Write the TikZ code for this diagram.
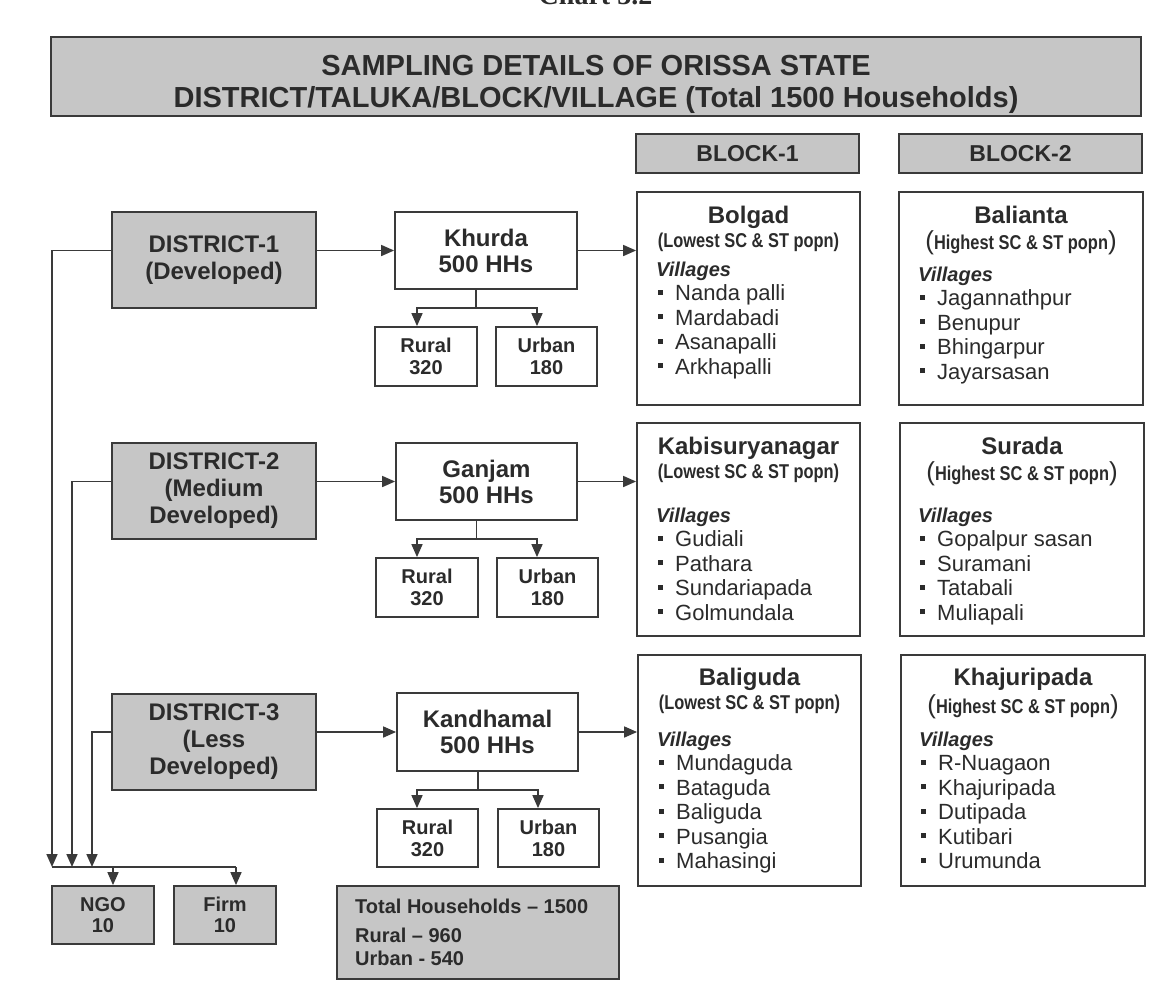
\documentclass[tikz,border=0pt]{standalone}
\usepackage{fontspec}
\setmainfont{Liberation Sans}
\newfontfamily\narrowsf{Liberation Sans}[FakeStretch=0.82]
\newfontfamily\chartfont{Liberation Serif}
\usetikzlibrary{arrows.meta,calc}

\definecolor{ink}{HTML}{2B2B2B}
\definecolor{edge}{HTML}{3A3A3A}
\definecolor{shade}{HTML}{C6C6C6}

\newcommand\fsz[2]{\fontsize{#1pt}{#2pt}\selectfont}
\newcommand\bul{\makebox[19pt][l]{\hspace{2pt}\rule[6pt]{5pt}{5pt}}}
\newcommand\lowest{{\narrowsf\bfseries\fsz{20}{20}(Lowest SC \& ST popn)}}
\newcommand\highest{{\fsz{26}{26}(}{\narrowsf\bfseries\fsz{20}{20}Highest SC \& ST popn}{\fsz{26}{26})}}

% "Villages" heading followed by a bulleted list, 24.5pt apart
\newcommand\villagelist[4]{%
  \node[lbl, anchor=base west, font=\bfseries\itshape\fsz{20}{20}] (#1h) at (#2,#3) {Villages};
  \foreach \v [count=\k] in {#4}
    \node[lbl, anchor=base west, font=\fsz{22}{22}] (#1\k) at (#2,#3+24.5*\k) {\bul\v};
}

\tikzset{
  panel/.style={draw=edge, line width=1.8pt, inner sep=0pt, align=center, text=ink},
  grayp/.style={panel, fill=shade},
  whitep/.style={panel, fill=white},
  size/.style 2 args={minimum width=#1pt, minimum height=#2pt},
  bigbf/.style={font=\bfseries\fsz{24}{27}},
  midbf/.style={font=\bfseries\fsz{24}{26}},
  smallbf/.style={font=\bfseries\fsz{20}{22}},
  lbl/.style={inner sep=0pt, text=ink},
  link/.style={draw=edge, line width=1.6pt},
  arrow/.style={link, -{Triangle[length=13pt,width=11pt]}},
}

\begin{document}
\begin{tikzpicture}[x=1pt, y=-1pt]
\useasboundingbox[fill=white] (0,0) rectangle (1172,983);

% chart caption, mostly above the page edge
\node[lbl, anchor=base, font=\chartfont\bfseries\fsz{28}{28}] (chart) at (595.5,4) {Chart 3.2};

% heading
\node[grayp, size={1090}{79}] (title) at (596,76.5) {};
\node[lbl, anchor=base, font=\bfseries\fsz{29}{29}] (t1) at (596,75.5) {SAMPLING DETAILS OF ORISSA STATE};
\node[lbl, anchor=base, font=\bfseries\fsz{29}{29}] (t2) at (596,107.5) {DISTRICT/TALUKA/BLOCK/VILLAGE (Total 1500 Households)};

% column headers
\node[grayp, size={223}{39}, font=\bfseries\fsz{23}{23}] (blk1) at (747.5,153.5) {BLOCK-1};
\node[grayp, size={243}{39}, font=\bfseries\fsz{23}{23}] (blk2) at (1020.5,153.5) {BLOCK-2};

% districts
\node[grayp, size={204}{96}, bigbf] (d1) at (214,260) {DISTRICT-1\\(Developed)};
\node[grayp, size={204}{96}, bigbf] (d2) at (214,491) {DISTRICT-2\\(Medium\\Developed)};
\node[grayp, size={204}{96}, bigbf] (d3) at (214,742) {DISTRICT-3\\(Less\\Developed)};

% talukas
\node[whitep, size={182}{77}, midbf] (kh) at (486,250.5) {Khurda\\500 HHs};
\node[whitep, size={181}{77}, midbf] (gj) at (486.5,481.5) {Ganjam\\500 HHs};
\node[whitep, size={181}{78}, midbf] (kd) at (487.5,732) {Kandhamal\\500 HHs};

% rural / urban split
\node[whitep, size={102}{59}, smallbf] (r1) at (426,356.5) {Rural\\320};
\node[whitep, size={101}{59}, smallbf] (u1) at (546.5,356.5) {Urban\\180};
\node[whitep, size={102}{59}, smallbf] (r2) at (427,587.5) {Rural\\320};
\node[whitep, size={101}{59}, smallbf] (u2) at (547.5,587.5) {Urban\\180};
\node[whitep, size={101}{58}, smallbf] (r3) at (427.5,838) {Rural\\320};
\node[whitep, size={101}{58}, smallbf] (u3) at (548.5,838) {Urban\\180};

% NGO / firm and totals
\node[grayp, size={102}{58}, font=\bfseries\fsz{20}{21}] (ngo) at (103,915) {NGO\\10};
\node[grayp, size={102}{58}, font=\bfseries\fsz{20}{21}] (firm) at (225,915) {Firm\\10};
\node[grayp, size={282}{93}] (tot) at (478,932.5) {};
\node[lbl, anchor=base west, font=\bfseries\fsz{20}{20}] (tot1) at (355,913) {Total Households -- 1500};
\node[lbl, anchor=base west, font=\bfseries\fsz{20}{20}] (tot2) at (355,942) {Rural -- 960};
\node[lbl, anchor=base west, font=\bfseries\fsz{20}{20}] (tot3) at (355,965) {Urban - 540};

% block panels
\node[whitep, size={223}{213}] (bol) at (748.5,298.5) {};
\node[whitep, size={244}{213}] (bal) at (1021,298.5) {};
\node[whitep, size={223}{213}] (kab) at (748.5,529.5) {};
\node[whitep, size={244}{213}] (sur) at (1022,529.5) {};
\node[whitep, size={223}{231}] (blg) at (749.5,770.5) {};
\node[whitep, size={244}{231}] (kha) at (1023,770.5) {};

\node[lbl, anchor=base, font=\bfseries\fsz{24}{24}] (bolT) at (748.5,223) {Bolgad};
\node[lbl, anchor=base] (bolS) at (748.5,247) {\lowest};
\villagelist{bolV}{656}{276}{Nanda palli,Mardabadi,Asanapalli,Arkhapalli}

\node[lbl, anchor=base, font=\bfseries\fsz{24}{24}] (balT) at (1021,223) {Balianta};
\node[lbl, anchor=base] (balS) at (1021,249) {\highest};
\villagelist{balV}{918}{281}{Jagannathpur,Benupur,Bhingarpur,Jayarsasan}

\node[lbl, anchor=base, font=\bfseries\fsz{24}{24}] (kabT) at (748.5,454) {Kabisuryanagar};
\node[lbl, anchor=base] (kabS) at (748.5,478) {\lowest};
\villagelist{kabV}{656}{522}{Gudiali,Pathara,Sundariapada,Golmundala}

\node[lbl, anchor=base, font=\bfseries\fsz{24}{24}] (surT) at (1022,454) {Surada};
\node[lbl, anchor=base] (surS) at (1022,480) {\highest};
\villagelist{surV}{918}{522}{Gopalpur sasan,Suramani,Tatabali,Muliapali}

\node[lbl, anchor=base, font=\bfseries\fsz{24}{24}] (blgT) at (749.5,685) {Baliguda};
\node[lbl, anchor=base] (blgS) at (749.5,709) {\lowest};
\villagelist{blgV}{657}{746}{Mundaguda,Bataguda,Baliguda,Pusangia,Mahasingi}

\node[lbl, anchor=base, font=\bfseries\fsz{24}{24}] (khaT) at (1023,685) {Khajuripada};
\node[lbl, anchor=base] (khaS) at (1023,713) {\highest};
\villagelist{khaV}{919}{746}{R-Nuagaon,Khajuripada,Dutipada,Kutibari,Urumunda}

% district -> taluka -> block
\draw[arrow] (d1.east |- kh.west) -- (kh.west);
\draw[arrow] (d2.east |- gj.west) -- (gj.west);
\draw[arrow] (d3.east |- kd.west) -- (kd.west);
\draw[arrow] (kh.east) -- (kh.east -| bol.west);
\draw[arrow] (gj.east) -- (gj.east -| kab.west);
\draw[arrow] (kd.east) -- (kd.east -| blg.west);

% taluka -> rural / urban
\coordinate (k1) at (476,308);
\coordinate (k2) at (476.5,539);
\coordinate (k3) at (478,790);
\draw[link] (kh.south -| k1) -- (k1);
\draw[arrow] (k1) -| ([xshift=-9pt]r1.north);
\draw[arrow] (k1) -| ([xshift=-9.5pt]u1.north);
\draw[link] (gj.south -| k2) -- (k2);
\draw[arrow] (k2) -| ([xshift=-10pt]r2.north);
\draw[arrow] (k2) -| ([xshift=-10.5pt]u2.north);
\draw[link] (kd.south -| k3) -- (k3);
\draw[arrow] (k3) -| ([xshift=-10.5pt]r3.north);
\draw[arrow] (k3) -| ([xshift=-10.5pt]u3.north);

% districts -> NGO / firm
\coordinate (j1) at (52,867);
\coordinate (j2) at (72,867);
\coordinate (j3) at (92,867);
\coordinate (jn) at (113,867);
\coordinate (jf) at (236,867);
\draw[arrow] (d1.west |- kh.west) -| (j1);
\draw[arrow] (d2.west |- gj.west) -| (j2);
\draw[arrow] (d3.west |- kd.west) -| (j3);
\draw[link] (j1) -- (jf);
\draw[arrow] (jn) -- (jn |- ngo.north);
\draw[arrow] (jf) -- (jf |- firm.north);
\end{tikzpicture}
\end{document}
